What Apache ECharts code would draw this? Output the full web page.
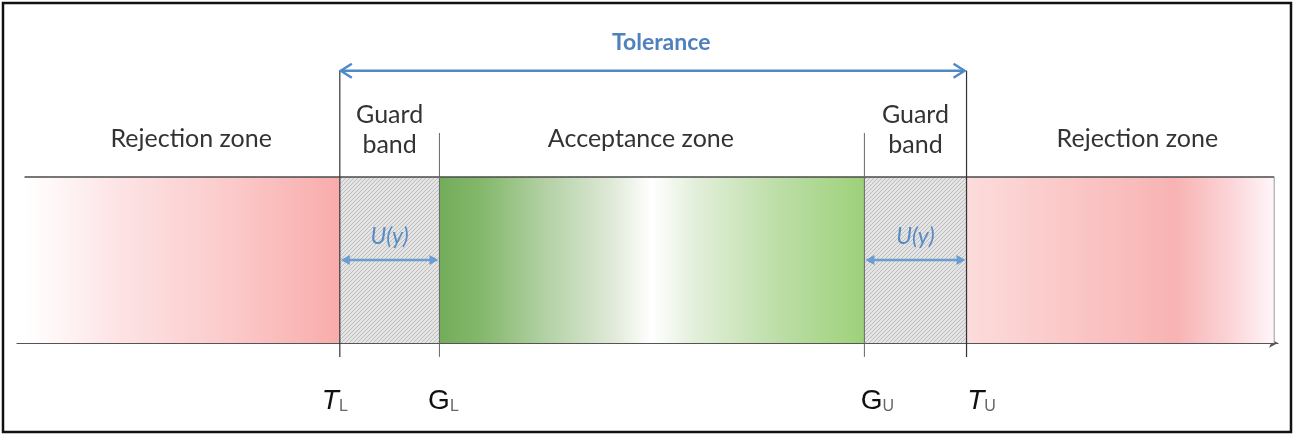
<!DOCTYPE html>
<html><head><meta charset="utf-8">
<script src="https://cdn.jsdelivr.net/npm/echarts@6/dist/echarts.min.js"></script>
<style>html,body{margin:0;padding:0;background:#fff}#c{width:1294px;height:436px}</style>
</head><body><div id="c"></div>
<script>
// ---- data ----
const zoneNames = ['Rejection zone', 'Guard\nband', 'Acceptance zone', 'Guard\nband', 'Rejection zone'];
const zoneKinds = ['reject-left', 'guard', 'accept', 'guard', 'reject-right'];
const zoneStart = [0.6, 25.6, 33.5, 67.2, 75.3];
const zoneEnd   = [25.6, 33.5, 67.2, 75.3, 99.7];
const limitSymbols = ['T', 'G', 'G', 'T'];
const limitSubscripts = ['L', 'L', 'U', 'U'];
const limitValues = [25.6, 33.5, 67.2, 75.3];
const toleranceLabel = 'Tolerance';
const toleranceRange = [25.6, 75.3];
const uncertaintyLabel = 'U(y)';

// ---- layout (vertical levels in axis units, band = 0..1) ----
const Y = { bandTop: 1, tolArrow: 1.64, tolText: 1.81, gTop: 1.265, lineBottom: -0.084,
  zoneText: 1.229, guardText: 1.283, limitText: -0.343, uText: 0.64, uArrow: 0.5 };
const zoneLabelDx = [9, 0, -11, 0, 17];
const limitLabelDx = [-5, 4, 13, 15];

const LG = (stops) => new echarts.graphic.LinearGradient(0, 0, 1, 0, stops.map(s => ({offset: s[0], color: s[1]})));
const pc = document.createElement('canvas'); pc.width = pc.height = 4;
const g = pc.getContext('2d');
g.fillStyle = '#e4e4e4'; g.fillRect(0, 0, 4, 4);
g.strokeStyle = '#bdbdbd'; g.lineWidth = 1;
g.beginPath(); g.moveTo(0, 4); g.lineTo(4, 0); g.stroke();
const fills = {
  'reject-left': LG([[0, '#ffffff'], [0.06, '#fffafa'], [0.3, '#fde3e5'], [0.65, '#fbcaca'], [1, '#f8acab']]),
  'reject-right': LG([[0, '#fcdcdc'], [0.3, '#fbc9c9'], [0.68, '#f8b3b3'], [0.85, '#fbd3d6'], [1, '#fff6f9']]),
  'accept': LG([[0, '#72ad5b'], [0.1, '#84b86b'], [0.25, '#b3d1a5'], [0.4, '#dde8d5'], [0.5, '#ffffff'], [0.6, '#e3efdb'], [0.8, '#bcdea6'], [1, '#9dd17a']]),
  'guard': {image: pc, repeat: 'repeat'}
};

const FONT = 'Lato, "Open Sans", sans-serif';
const blue = '#4f81bd';

const chart = echarts.init(document.getElementById('c'), null, {renderer: 'canvas'});
chart.setOption({
  animation: false,
  backgroundColor: '#fff',
  grid: {left: 17, right: 16, top: 11, bottom: 10},
  xAxis: {type: 'value', min: 0, max: 100,
    axisLine: {show: true, onZero: true, symbol: ['none', 'arrow'], symbolSize: [7, 9], lineStyle: {color: '#555', width: 1.2}},
    axisTick: {show: false}, axisLabel: {show: false}, splitLine: {show: false}},
  yAxis: {type: 'value', min: -0.5, max: 2, show: false, splitLine: {show: false}},
  graphic: [{type: 'rect', z: 100, shape: {x: 3, y: 3, width: 1288, height: 429},
    style: {fill: 'none', stroke: '#111', lineWidth: 2.5}}],
  series: [
    { // zones
      type: 'custom', z: 1,
      data: zoneStart.map((s, i) => [s, zoneEnd[i], i]),
      encode: {x: [0, 1]},
      renderItem: (params, api) => {
        const i = api.value(2), kind = zoneKinds[i];
        const p0 = api.coord([api.value(0), Y.bandTop]);
        const p1 = api.coord([api.value(1), 0]);
        const children = [
          {type: 'rect', shape: {x: p0[0], y: p0[1], width: p1[0] - p0[0], height: p1[1] - p0[1]}, style: {fill: fills[kind]}},
          {type: 'line', shape: {x1: p0[0], y1: p0[1], x2: p1[0], y2: p0[1]}, style: {stroke: '#4a4a4a', lineWidth: 1.5}}
        ];
        if (kind === 'reject-right') children.push({type: 'line', shape: {x1: p1[0], y1: p0[1], x2: p1[0], y2: p1[1]}, style: {stroke: '#999', lineWidth: 1}});
        const cx = (p0[0] + p1[0]) / 2;
        const ty = api.coord([0, kind === 'guard' ? Y.guardText : Y.zoneText])[1];
        children.push({type: 'text', x: cx + zoneLabelDx[i], y: ty, style: {text: zoneNames[i], font: '25px ' + FONT, fill: '#333', align: 'center', verticalAlign: 'middle', lineHeight: 30}});
        if (kind === 'guard') {
          const uy = api.coord([0, Y.uText])[1], ay = api.coord([0, Y.uArrow])[1];
          children.push({type: 'text', x: cx, y: uy, style: {text: uncertaintyLabel, font: 'italic 23px ' + FONT, fill: '#5a8cc4', align: 'center', verticalAlign: 'middle'}});
          const a = p0[0] + 1, b = p1[0] - 1, c = '#6a9dd0';
          children.push({type: 'line', shape: {x1: a + 6, y1: ay, x2: b - 6, y2: ay}, style: {stroke: c, lineWidth: 2.5}});
          children.push({type: 'polygon', shape: {points: [[a, ay], [a + 9, ay - 5], [a + 9, ay + 5]]}, style: {fill: c}});
          children.push({type: 'polygon', shape: {points: [[b, ay], [b - 9, ay - 5], [b - 9, ay + 5]]}, style: {fill: c}});
        }
        return {type: 'group', children};
      }
    },
    { // limit lines + labels
      type: 'custom', z: 2,
      data: limitValues.map((v, i) => [v, i]),
      encode: {x: 0},
      renderItem: (params, api) => {
        const i = api.value(1), isT = limitSymbols[i] === 'T';
        const top = api.coord([api.value(0), isT ? Y.tolArrow : Y.gTop]);
        const bot = api.coord([api.value(0), Y.lineBottom]);
        const lab = api.coord([api.value(0), Y.limitText]);
        return {type: 'group', children: [
          {type: 'line', shape: {x1: top[0], y1: top[1], x2: bot[0], y2: bot[1]}, style: {stroke: isT ? '#333' : '#666', lineWidth: isT ? 1.2 : 1}},
          {type: 'text', x: lab[0] + limitLabelDx[i], y: lab[1], style: {
            text: '{m|' + limitSymbols[i] + '}{s|' + limitSubscripts[i] + '}', align: 'center', verticalAlign: 'middle',
            rich: {
              m: {font: (isT ? 'italic ' : '') + '28px "Liberation Sans", Arial, sans-serif', fill: '#111', lineHeight: 30, verticalAlign: 'bottom'},
              s: {font: '16px "Liberation Sans", Arial, sans-serif', fill: '#666', lineHeight: 14, verticalAlign: 'bottom'}
            }}}
        ]};
      }
    },
    { // tolerance arrow
      type: 'custom', z: 3,
      data: [[toleranceRange[0], toleranceRange[1]]],
      encode: {x: [0, 1]},
      renderItem: (params, api) => {
        const a = api.coord([api.value(0), Y.tolArrow]), b = api.coord([api.value(1), Y.tolArrow]);
        const y = a[1], c = '#4f89c6';
        const t = api.coord([(api.value(0) + api.value(1)) / 2, Y.tolText]);
        return {type: 'group', children: [
          {type: 'line', shape: {x1: a[0] + 1, y1: y, x2: b[0] - 2, y2: y}, style: {stroke: c, lineWidth: 2.5}},
          {type: 'polyline', shape: {points: [[a[0] + 12, y - 7], [a[0] + 1, y], [a[0] + 12, y + 7]]}, style: {stroke: c, lineWidth: 2.5, fill: 'none'}},
          {type: 'polyline', shape: {points: [[b[0] - 13, y - 7], [b[0] - 2, y], [b[0] - 13, y + 7]]}, style: {stroke: c, lineWidth: 2.5, fill: 'none'}},
          {type: 'text', x: t[0] + 8, y: t[1], style: {text: toleranceLabel, font: 'bold 23px ' + FONT, fill: blue, align: 'center', verticalAlign: 'middle'}}
        ]};
      }
    }
  ]
});
</script></body></html>
